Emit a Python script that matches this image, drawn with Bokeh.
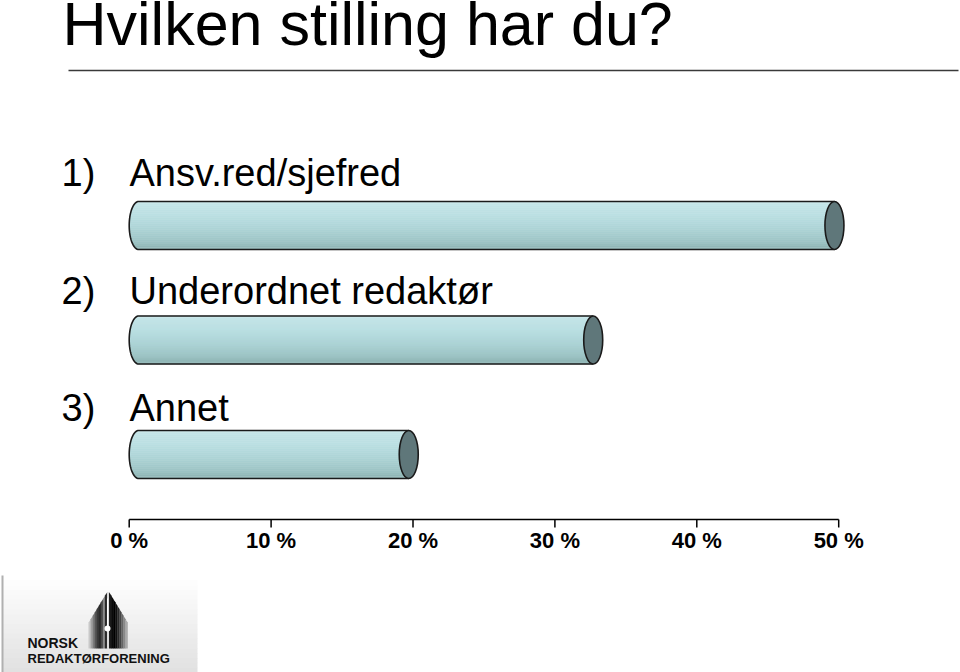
import numpy as np
from bokeh.plotting import figure
from bokeh.models import Range1d
from bokeh.core.properties import value
from bokeh.embed import file_html
from bokeh.resources import INLINE

# ---- data ----
title_text = "Hvilken stilling har du?"
numbers = ["1)", "2)", "3)"]
categories = ["Ansv.red/sjefred", "Underordnet redaktør", "Annet"]
percents = [49.7, 32.7, 19.7]
tick_values = [0, 10, 20, 30, 40, 50]
tick_labels = ["0 %", "10 %", "20 %", "30 %", "40 %", "50 %"]
logo_lines = ["NORSK", "REDAKTØRFORENING"]

# ---- layout helpers (pixel geometry -> data) ----
PX0, PXU = 128.7, 14.19  # pixel of 0 %, pixels per 1 %


def px(xp):
    return (xp - PX0) / PXU


def base(y, size):
    # compensate the renderer's baseline placement
    return y - 0.38 * size


W, H = 960, 672
p = figure(width=W, height=H, x_range=Range1d(px(0), px(W)), y_range=Range1d(H, 0),
           output_backend="svg", toolbar_location=None, min_border=0,
           x_axis_location=None, y_axis_location=None)
p.grid.visible = False
p.outline_line_color = None
p.background_fill_color = "white"
p.border_fill_color = "white"

FONT = value("Liberation Sans")

# title
p.text(x=[px(62)], y=[base(47, 61)], text=[title_text], text_font=FONT, text_font_size="61px",
       text_color="black", text_baseline="alphabetic", text_align="left")
p.line(x=[px(68), px(958)], y=[70, 70], line_color="#3a3a3a", line_width=1.5)

# ---- cylinders ----
BAR_Y0 = 225.0
BAR_STEP = 114.5
BAR_H = 48.0
LABEL_GAP = [14, 11, 8]
CAP_A_PX = 9.5  # half width of the end ellipse in px
a = CAP_A_PX / PXU
b = BAR_H / 2

key_pos = [0.0, 0.05, 0.3, 0.6, 0.85, 0.95, 1.0]
key_col = ["#d2ecee", "#c3e4e7", "#badfe2", "#abd2d4", "#9cc3c4", "#8fb5b5", "#9dbfbf"]


def hex2rgb(h):
    return np.array([int(h[i:i + 2], 16) for i in (1, 3, 5)], dtype=float)


key_rgb = np.array([hex2rgb(c) for c in key_col])


def grad(t):
    r = [np.interp(t, key_pos, key_rgb[:, k]) for k in range(3)]
    return "#%02x%02x%02x" % tuple(int(round(v)) for v in r)


n_strips = 24
LSIZE = 38
for i, (num, cat, val) in enumerate(zip(numbers, categories, percents)):
    yc = BAR_Y0 + i * BAR_STEP
    ytop = yc - b
    xl = 0 + a
    xr = val
    lefts, rights, tops, bottoms, cols = [], [], [], [], []
    for s in range(n_strips):
        y0 = ytop + s * BAR_H / n_strips
        y1 = y0 + BAR_H / n_strips
        ym = (y0 + y1) / 2
        dy = (ym - yc) / b
        lefts.append(xl - a * np.sqrt(max(0.0, 1 - dy * dy)))
        rights.append(xr)
        tops.append(y0 - 0.3)
        bottoms.append(y1 + 0.3)
        cols.append(grad((ym - ytop) / BAR_H))
    p.quad(left=lefts, right=rights, top=tops, bottom=bottoms, fill_color=cols,
           line_color=None)
    # outline: top line, left half ellipse, bottom line
    th = np.linspace(np.pi / 2, 3 * np.pi / 2, 40)
    ox = [xr] + list(xl + a * np.cos(th)) + [xr]
    oy = [ytop] + list(yc - b * np.sin(th)) + [yc + b]
    p.line(x=ox, y=oy, line_color="#1a1a1a", line_width=1.6)
    # right end
    p.ellipse(x=[xr], y=[yc], width=[2 * a], height=[BAR_H], fill_color="#5f777a",
              line_color="#1a1a1a", line_width=1.6)
    # labels
    ly = base(ytop - LABEL_GAP[i], LSIZE)
    p.text(x=[px(61)], y=[ly], text=[num], text_font=FONT, text_font_size="%dpx" % LSIZE,
           text_baseline="alphabetic", text_color="black")
    p.text(x=[px(129)], y=[ly], text=[cat], text_font=FONT, text_font_size="%dpx" % LSIZE,
           text_baseline="alphabetic", text_color="black")

# ---- axis ----
AX_Y = 519
p.line(x=[tick_values[0], tick_values[-1]], y=[AX_Y, AX_Y], line_color="black", line_width=1.5)
p.segment(x0=tick_values, y0=[AX_Y] * len(tick_values), x1=tick_values,
          y1=[AX_Y + 8] * len(tick_values), line_color="black", line_width=1.5)
p.text(x=tick_values, y=[base(548, 22)] * len(tick_values), text=tick_labels, text_font=FONT,
       text_font_size="22px", text_font_style="bold", text_align="center",
       text_baseline="alphabetic", text_color="black")

# ---- logo ----
LX0, LX1, LY0, LY1 = 2, 197, 575, 672
nb = 20
ys = np.linspace(LY0, LY1, nb + 1)
lcols = []
for k in range(nb):
    t = k / (nb - 1)
    g = int(round(255 - 30 * t))
    lcols.append("#%02x%02x%02x" % (g, g, g))
p.quad(left=[px(LX0)] * nb, right=[px(LX1)] * nb, top=list(ys[:-1]), bottom=list(ys[1:] + 0.5),
       fill_color=lcols, line_color=None)
p.line(x=[px(2), px(2)], y=[LY0, LY1], line_color="#b0b0b0", line_width=2)

# nib made of vertical strips
nx = np.linspace(88, 127, 20)
nib_cols = ["#c8c8c8", "#a0a0a0", "#7a7a7a", "#555555", "#3a3a3a", "#2a2a2a", "#4a4a4a",
            "#8a8a8a", "#2a2a2a", "#dddddd", "#1a1a1a", "#0a0a0a", "#000000", "#111111",
            "#2a2a2a", "#444444", "#666666", "#888888", "#aaaaaa"]
xs_list, ys_list = [], []


def ytop_n(xv):
    return 622 - (19.5 - abs(xv - 107.5)) / 19.5 * 32


for k in range(len(nx) - 1):
    xa, xb = nx[k], nx[k + 1]
    xs_list.append([px(xa), px(xb + 0.3), px(xb + 0.3), px(xa)])
    ys_list.append([ytop_n(xa), ytop_n(xb), 648, 648])
p.patches(xs=xs_list, ys=ys_list, fill_color=nib_cols, line_color=None)
p.line(x=[px(107), px(107)], y=[598, 628], line_color="white", line_width=1)
p.scatter(x=[px(107)], y=[628], size=6, fill_color="white", line_color=None)

p.text(x=[px(27)], y=[base(648, 14)], text=[logo_lines[0]], text_font=FONT, text_font_size="14px",
       text_font_style="bold", text_baseline="alphabetic", text_color="#111111")
p.text(x=[px(27)], y=[base(663, 13)], text=[logo_lines[1]], text_font=FONT, text_font_size="13px",
       text_font_style="bold", text_baseline="alphabetic", text_color="#111111")

open("out.html", "w").write(file_html(p, INLINE))
